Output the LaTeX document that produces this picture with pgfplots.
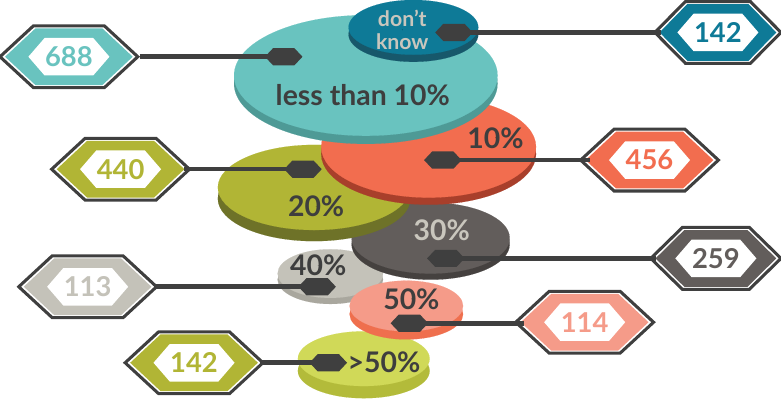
\documentclass[border=0pt]{standalone}
\usepackage{pgfplots}
\pgfplotsset{compat=1.18}
\usepackage{fontspec}
\setmainfont{Lato}

\definecolor{hexdark}{HTML}{3F3F3F}
\definecolor{tealT}{HTML}{69C3BF}\definecolor{tealS}{HTML}{4E9A96}
\definecolor{dtealT}{HTML}{0E7A97}\definecolor{dtealS}{HTML}{17586B}
\definecolor{oranT}{HTML}{F26D4F}\definecolor{oranS}{HTML}{A83F2B}
\definecolor{oliveT}{HTML}{B1B535}\definecolor{oliveS}{HTML}{6E7228}
\definecolor{grayT}{HTML}{625D5B}\definecolor{grayS}{HTML}{45413F}
\definecolor{lgrayT}{HTML}{C4C2B9}\definecolor{lgrayS}{HTML}{A9A79E}
\definecolor{salT}{HTML}{F59B89}\definecolor{salS}{HTML}{EF6F4E}
\definecolor{ygT}{HTML}{D0D958}\definecolor{ygS}{HTML}{B3BB3A}
\definecolor{txtdark}{HTML}{3E3E3E}
\definecolor{txtlight}{HTML}{C9C6BD}

\pgfdeclareplotmark{hexout}{%
  \pgfpathmoveto{\pgfqpoint{-68pt}{0pt}}%
  \pgfpathlineto{\pgfqpoint{-35pt}{30.5pt}}%
  \pgfpathlineto{\pgfqpoint{35pt}{30.5pt}}%
  \pgfpathlineto{\pgfqpoint{68pt}{0pt}}%
  \pgfpathlineto{\pgfqpoint{35pt}{-30.5pt}}%
  \pgfpathlineto{\pgfqpoint{-35pt}{-30.5pt}}%
  \pgfpathclose
  \pgfusepathqfillstroke}
\pgfdeclareplotmark{hexmid}{%
  \pgfpathmoveto{\pgfqpoint{-63pt}{0pt}}%
  \pgfpathlineto{\pgfqpoint{-33pt}{28pt}}%
  \pgfpathlineto{\pgfqpoint{33pt}{28pt}}%
  \pgfpathlineto{\pgfqpoint{63pt}{0pt}}%
  \pgfpathlineto{\pgfqpoint{33pt}{-28pt}}%
  \pgfpathlineto{\pgfqpoint{-33pt}{-28pt}}%
  \pgfpathclose
  \pgfusepathqfill}
\pgfdeclareplotmark{hexin}{%
  \pgfpathmoveto{\pgfqpoint{-40pt}{0pt}}%
  \pgfpathlineto{\pgfqpoint{-24pt}{18.5pt}}%
  \pgfpathlineto{\pgfqpoint{24pt}{18.5pt}}%
  \pgfpathlineto{\pgfqpoint{40pt}{0pt}}%
  \pgfpathlineto{\pgfqpoint{24pt}{-18.5pt}}%
  \pgfpathlineto{\pgfqpoint{-24pt}{-18.5pt}}%
  \pgfpathclose
  \pgfusepathqfill}
\pgfdeclareplotmark{hexsmall}{%
  \pgfpathmoveto{\pgfqpoint{-18.5pt}{0pt}}%
  \pgfpathlineto{\pgfqpoint{-10.5pt}{8.5pt}}%
  \pgfpathlineto{\pgfqpoint{10.5pt}{8.5pt}}%
  \pgfpathlineto{\pgfqpoint{18.5pt}{0pt}}%
  \pgfpathlineto{\pgfqpoint{10.5pt}{-8.5pt}}%
  \pgfpathlineto{\pgfqpoint{-10.5pt}{-8.5pt}}%
  \pgfpathclose
  \pgfusepathqfill}

\pgfplotsset{
  disc/.style={only marks, mark=*, draw=none},
  lbl/.style={only marks, mark=*, mark size=0.01pt, draw=none, mark options={draw=none, fill=none},
    every node near coord/.append style={anchor=center, inner sep=0pt, text=#1,
      font=\fontsize{28}{29}\selectfont\bfseries}},
  hexval/.style={only marks, mark=hexin, draw=none, mark options={draw=none, fill=white},
    every node near coord/.append style={anchor=center, inner sep=0pt, text=#1,
      font=\fontsize{27}{29}\selectfont\bfseries}},
  conn/.style={no markers, draw=hexdark, line width=4.5pt},
}

\begin{document}
\begin{tikzpicture}
\begin{axis}[width=781pt, height=402pt, scale only axis,
  xmin=0, xmax=781, ymin=0, ymax=402, hide axis, clip=true,
  set layers, cycle list={{draw=none}}]

% ---- discs (side, then top), bottom to top ----
% >50%: centre (367,42), rx 65, ry 27, side 12
\addplot[disc, mark size=27, mark options={draw=ygS, fill=ygS, line width=0.1pt, xscale=65/27, yshift=-12pt}] coordinates {(367,42)};
\addplot[disc, mark size=27, mark options={draw=ygT, fill=ygT, line width=0.1pt, xscale=65/27}] coordinates {(367,42)};
\addplot[lbl=txtdark, nodes near coords={>50\%}] coordinates {(387,38)};
% 40%: centre (334,126), rx 52, ry 24, side 6
\addplot[disc, mark size=24, mark options={draw=lgrayS, fill=lgrayS, line width=0.1pt, xscale=52/24, yshift=-6pt}] coordinates {(334,126)};
\addplot[disc, mark size=24, mark options={draw=lgrayT, fill=lgrayT, line width=0.1pt, xscale=52/24}] coordinates {(334,126)};
\addplot[lbl=txtdark, nodes near coords={40\%}] coordinates {(322,134)};
% 50%: centre (409,94), rx 56, ry 25, side 8
\addplot[disc, mark size=25, mark options={draw=salS, fill=salS, line width=0.1pt, xscale=56/25, yshift=-8pt}] coordinates {(409,94)};
\addplot[disc, mark size=25, mark options={draw=salT, fill=salT, line width=0.1pt, xscale=56/25}] coordinates {(409,94)};
\addplot[lbl=txtdark, nodes near coords={50\%}] coordinates {(414,101)};
% 30%: centre (433,161), rx 78, ry 35, side 6
\addplot[disc, mark size=35, mark options={draw=grayS, fill=grayS, line width=0.1pt, xscale=78/35, yshift=-6pt}] coordinates {(433,161)};
\addplot[disc, mark size=35, mark options={draw=grayT, fill=grayT, line width=0.1pt, xscale=78/35}] coordinates {(433,161)};
\addplot[lbl=txtlight, nodes near coords={30\%}] coordinates {(444,169)};
% 20%: centre (318,211), rx 95, ry 42, side 11
\addplot[disc, mark size=42, mark options={draw=oliveS, fill=oliveS, line width=0.1pt, xscale=95/42, yshift=-11pt}] coordinates {(318,211)};
\addplot[disc, mark size=42, mark options={draw=oliveT, fill=oliveT, line width=0.1pt, xscale=95/42}] coordinates {(318,211)};
\addplot[lbl=txtdark, nodes near coords={20\%}] coordinates {(320,192)};
% 10%: centre (431,251), rx 106, ry 50, side 7
\addplot[disc, mark size=50, mark options={draw=oranS, fill=oranS, line width=0.1pt, xscale=106/50, yshift=-7pt}] coordinates {(431,251)};
\addplot[disc, mark size=50, mark options={draw=oranT, fill=oranT, line width=0.1pt, xscale=106/50}] coordinates {(431,251)};
\addplot[lbl=txtdark, nodes near coords={10\%}] coordinates {(497,260)};
% less than 10%: centre (369,321.5), rx 130, ry 59.5, side 8
\addplot[disc, mark size=59.5, mark options={draw=tealS, fill=tealS, line width=0.1pt, xscale=130/59.5, yshift=-8pt}] coordinates {(369,321.5)};
\addplot[disc, mark size=59.5, mark options={draw=tealT, fill=tealT, line width=0.1pt, xscale=130/59.5}] coordinates {(369,321.5)};
\addplot[lbl=txtdark, nodes near coords={less than 10\%}] coordinates {(366,302)};
% don't know: centre (416,369), rx 64, ry 27, side 7
\addplot[disc, mark size=27, mark options={draw=dtealS, fill=dtealS, line width=0.1pt, xscale=64/27, yshift=-7pt}] coordinates {(416,369)};
\addplot[disc, mark size=27, mark options={draw=dtealT, fill=dtealT, line width=0.1pt, xscale=64/27}] coordinates {(416,369)};
\addplot[lbl=txtlight, nodes near coords={don’t\\know},
  every node near coord/.append style={align=center, font=\fontsize{21}{22}\selectfont\bfseries}] coordinates {(405,366.5)};

% ---- connector lines (foreground layer) ----
\addplot[conn, on layer=axis foreground] coordinates {(146,340) (288,340)};
\addplot[conn, on layer=axis foreground] coordinates {(456,364) (660,364)};
\addplot[conn, on layer=axis foreground] coordinates {(190,229) (307,229)};
\addplot[conn, on layer=axis foreground] coordinates {(445,238) (590,238)};
\addplot[conn, on layer=axis foreground] coordinates {(448,141) (655,141)};
\addplot[conn, on layer=axis foreground] coordinates {(160,113) (321,113)};
\addplot[conn, on layer=axis foreground] coordinates {(412,77) (525,77)};
\addplot[conn, on layer=axis foreground] coordinates {(265,38) (332,38)};

% ---- small dark hexagon ends ----
\addplot[only marks, on layer=axis foreground, mark=hexsmall, mark options={draw=none, fill=hexdark}]
  coordinates {(288,340) (456,364) (307,229) (445,238) (448,141) (321,113) (412,77) (332,38)};

% ---- value hexagons: outline ----
\addplot[only marks, on layer=axis foreground, mark=hexout, mark options={draw=hexdark, fill=white, line width=3pt}]
  coordinates {(76,340) (127,229) (649,238) (585,78) (94.5,113) (199.5,38)};
\addplot[only marks, on layer=axis foreground, mark=hexout, mark options={draw=hexdark, fill=white, line width=3pt, xscale=0.915}]
  coordinates {(716.5,364)};
\addplot[only marks, on layer=axis foreground, mark=hexout, mark options={draw=hexdark, fill=white, line width=3pt, xscale=0.945}]
  coordinates {(714.5,141)};
% coloured bands
\addplot[only marks, on layer=axis foreground, mark=hexmid, mark options={draw=none, fill=tealT}] coordinates {(76,340)};
\addplot[only marks, on layer=axis foreground, mark=hexmid, mark options={draw=none, fill=dtealT, xscale=0.915}] coordinates {(716.5,364)};
\addplot[only marks, on layer=axis foreground, mark=hexmid, mark options={draw=none, fill=oliveT}] coordinates {(127,229)};
\addplot[only marks, on layer=axis foreground, mark=hexmid, mark options={draw=none, fill=oranT}] coordinates {(649,238)};
\addplot[only marks, on layer=axis foreground, mark=hexmid, mark options={draw=none, fill=grayT, xscale=0.945}] coordinates {(714.5,141)};
\addplot[only marks, on layer=axis foreground, mark=hexmid, mark options={draw=none, fill=salT}] coordinates {(585,78)};
\addplot[only marks, on layer=axis foreground, mark=hexmid, mark options={draw=none, fill=lgrayT}] coordinates {(94.5,113)};
\addplot[only marks, on layer=axis foreground, mark=hexmid, mark options={draw=none, fill=oliveT}] coordinates {(199.5,38)};
% white centres with values
\addplot[hexval=tealT, on layer=axis foreground, nodes near coords={688}] coordinates {(76,340)};
\addplot[hexval=dtealT, on layer=axis foreground, nodes near coords={142}] coordinates {(716.5,364)};
\addplot[hexval=oliveT, on layer=axis foreground, nodes near coords={440}] coordinates {(127,229)};
\addplot[hexval=oranT, on layer=axis foreground, nodes near coords={456}] coordinates {(649,238)};
\addplot[hexval=grayT, on layer=axis foreground, nodes near coords={259}] coordinates {(714.5,141)};
\addplot[hexval=salT, on layer=axis foreground, nodes near coords={114}] coordinates {(585,78)};
\addplot[hexval=lgrayT, on layer=axis foreground, nodes near coords={113}] coordinates {(94.5,113)};
\addplot[hexval=oliveT, on layer=axis foreground, nodes near coords={142}] coordinates {(199.5,38)};
\end{axis}
\end{tikzpicture}
\end{document}
